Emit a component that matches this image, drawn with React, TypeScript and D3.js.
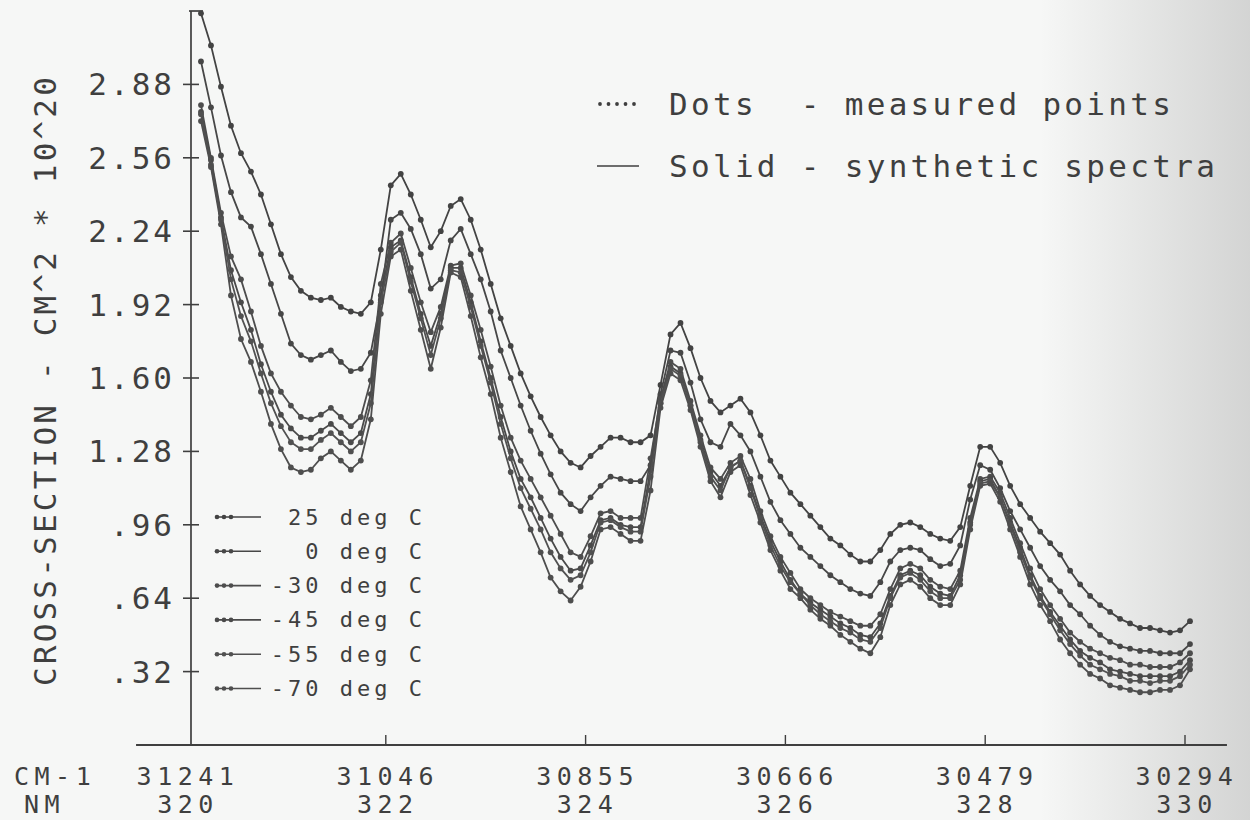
import React, { useEffect, useRef } from 'react';
import * as d3 from 'd3';

// measured wavelengths (nm)
const WAVELENGTHS = [
  320.15, 320.25, 320.35, 320.45, 320.55, 320.65, 320.75, 320.85, 320.95, 321.05,
  321.15, 321.25, 321.35, 321.45, 321.55, 321.65, 321.75, 321.85, 321.95, 322.05,
  322.15, 322.25, 322.35, 322.45, 322.55, 322.65, 322.75, 322.85, 322.95, 323.05,
  323.15, 323.25, 323.35, 323.45, 323.55, 323.65, 323.75, 323.85, 323.95, 324.05,
  324.15, 324.25, 324.35, 324.45, 324.55, 324.65, 324.75, 324.85, 324.95, 325.05,
  325.15, 325.25, 325.35, 325.45, 325.55, 325.65, 325.75, 325.85, 325.95, 326.05,
  326.15, 326.25, 326.35, 326.45, 326.55, 326.65, 326.75, 326.85, 326.95, 327.05,
  327.15, 327.25, 327.35, 327.45, 327.55, 327.65, 327.75, 327.85, 327.95, 328.05,
  328.15, 328.25, 328.35, 328.45, 328.55, 328.65, 328.75, 328.85, 328.95, 329.05,
  329.15, 329.25, 329.35, 329.45, 329.55, 329.65, 329.75, 329.85, 329.95, 330.05,
];

// cross-section, cm^2 * 10^20
const T_25 = [
  3.19, 3.05, 2.87, 2.70, 2.58, 2.50, 2.40, 2.27, 2.14, 2.04,
  1.98, 1.95, 1.94, 1.95, 1.91, 1.89, 1.88, 1.93, 2.16, 2.44,
  2.49, 2.40, 2.29, 2.17, 2.24, 2.35, 2.38, 2.29, 2.16, 2.01,
  1.86, 1.74, 1.62, 1.52, 1.43, 1.35, 1.28, 1.23, 1.21, 1.26,
  1.30, 1.34, 1.34, 1.32, 1.32, 1.35, 1.57, 1.79, 1.84, 1.73,
  1.60, 1.50, 1.45, 1.48, 1.51, 1.45, 1.35, 1.24, 1.17, 1.10,
  1.05, 1.00, 0.95, 0.90, 0.87, 0.83, 0.80, 0.80, 0.85, 0.92,
  0.96, 0.97, 0.95, 0.92, 0.90, 0.89, 0.95, 1.13, 1.30, 1.30,
  1.23, 1.13, 1.05, 0.99, 0.93, 0.88, 0.83, 0.76, 0.70, 0.65,
  0.61, 0.58, 0.55, 0.53, 0.51, 0.51, 0.50, 0.49, 0.50, 0.54,
];
const T_0 = [
  2.98, 2.78, 2.57, 2.41, 2.30, 2.26, 2.14, 2.01, 1.88, 1.75,
  1.70, 1.68, 1.70, 1.72, 1.67, 1.63, 1.64, 1.71, 1.94, 2.29,
  2.32, 2.25, 2.14, 1.99, 2.03, 2.20, 2.25, 2.14, 2.03, 1.89,
  1.72, 1.60, 1.48, 1.37, 1.27, 1.18, 1.10, 1.05, 1.02, 1.08,
  1.13, 1.17, 1.16, 1.15, 1.15, 1.22, 1.53, 1.72, 1.71, 1.58,
  1.42, 1.32, 1.30, 1.40, 1.35, 1.28, 1.17, 1.06, 0.98, 0.92,
  0.86, 0.82, 0.78, 0.74, 0.71, 0.68, 0.66, 0.65, 0.71, 0.80,
  0.85, 0.86, 0.85, 0.81, 0.78, 0.79, 0.87, 1.07, 1.22, 1.20,
  1.12, 1.02, 0.94, 0.86, 0.78, 0.72, 0.67, 0.61, 0.57, 0.52,
  0.48, 0.45, 0.43, 0.42, 0.41, 0.41, 0.40, 0.40, 0.40, 0.44,
];
const T_M30 = [
  2.79, 2.56, 2.32, 2.13, 2.03, 1.89, 1.74, 1.62, 1.54, 1.48,
  1.43, 1.42, 1.44, 1.47, 1.43, 1.39, 1.43, 1.59, 2.01, 2.19,
  2.23, 2.08, 1.93, 1.80, 1.91, 2.09, 2.10, 1.96, 1.81, 1.65,
  1.48, 1.34, 1.24, 1.16, 1.08, 1.00, 0.92, 0.84, 0.82, 0.91,
  1.01, 1.02, 0.99, 0.99, 0.99, 1.25, 1.51, 1.67, 1.64, 1.50,
  1.35, 1.21, 1.16, 1.23, 1.26, 1.16, 1.02, 0.91, 0.82, 0.75,
  0.68, 0.64, 0.61, 0.58, 0.56, 0.54, 0.52, 0.52, 0.57, 0.68,
  0.77, 0.79, 0.77, 0.72, 0.69, 0.68, 0.76, 0.99, 1.16, 1.17,
  1.10, 0.99, 0.88, 0.77, 0.68, 0.61, 0.55, 0.49, 0.45, 0.42,
  0.40, 0.38, 0.37, 0.35, 0.35, 0.34, 0.34, 0.34, 0.36, 0.40,
];
const T_M45 = [
  2.76, 2.55, 2.30, 2.07, 1.93, 1.81, 1.66, 1.54, 1.44, 1.38,
  1.34, 1.34, 1.37, 1.40, 1.36, 1.32, 1.36, 1.53, 1.96, 2.17,
  2.20, 2.04, 1.88, 1.74, 1.88, 2.08, 2.08, 1.93, 1.76, 1.60,
  1.43, 1.28, 1.16, 1.08, 0.99, 0.90, 0.82, 0.76, 0.77, 0.87,
  0.98, 0.99, 0.96, 0.95, 0.95, 1.20, 1.49, 1.65, 1.62, 1.48,
  1.33, 1.19, 1.13, 1.21, 1.24, 1.13, 1.00, 0.89, 0.80, 0.72,
  0.66, 0.62, 0.59, 0.56, 0.53, 0.51, 0.48, 0.47, 0.53, 0.65,
  0.74, 0.76, 0.74, 0.69, 0.66, 0.65, 0.74, 0.97, 1.15, 1.16,
  1.08, 0.97, 0.86, 0.74, 0.65, 0.58, 0.52, 0.46, 0.41, 0.38,
  0.36, 0.33, 0.32, 0.31, 0.30, 0.30, 0.30, 0.30, 0.32, 0.37,
];
const T_M55 = [
  2.75, 2.53, 2.29, 2.03, 1.87, 1.76, 1.62, 1.49, 1.39, 1.32,
  1.29, 1.29, 1.33, 1.36, 1.32, 1.28, 1.32, 1.49, 1.93, 2.15,
  2.19, 2.02, 1.86, 1.70, 1.86, 2.07, 2.06, 1.91, 1.74, 1.58,
  1.40, 1.25, 1.12, 1.03, 0.94, 0.84, 0.77, 0.72, 0.74, 0.84,
  0.97, 0.98, 0.95, 0.93, 0.93, 1.17, 1.49, 1.64, 1.61, 1.48,
  1.32, 1.17, 1.11, 1.21, 1.24, 1.12, 0.99, 0.87, 0.78, 0.71,
  0.66, 0.61, 0.57, 0.54, 0.51, 0.49, 0.46, 0.45, 0.51, 0.64,
  0.73, 0.75, 0.72, 0.67, 0.64, 0.64, 0.72, 0.96, 1.14, 1.15,
  1.08, 0.96, 0.84, 0.73, 0.64, 0.57, 0.50, 0.44, 0.39, 0.35,
  0.33, 0.31, 0.30, 0.28, 0.28, 0.27, 0.28, 0.28, 0.30, 0.35,
];
const T_M70 = [
  2.72, 2.52, 2.27, 1.96, 1.77, 1.67, 1.54, 1.40, 1.29, 1.21,
  1.19, 1.20, 1.25, 1.28, 1.24, 1.20, 1.24, 1.42, 1.88, 2.13,
  2.16, 1.98, 1.81, 1.64, 1.82, 2.06, 2.04, 1.87, 1.69, 1.53,
  1.34, 1.19, 1.04, 0.94, 0.84, 0.73, 0.67, 0.63, 0.69, 0.80,
  0.94, 0.95, 0.92, 0.89, 0.89, 1.11, 1.47, 1.62, 1.59, 1.46,
  1.30, 1.15, 1.08, 1.19, 1.22, 1.09, 0.97, 0.85, 0.76, 0.68,
  0.64, 0.59, 0.55, 0.52, 0.48, 0.45, 0.42, 0.40, 0.47, 0.61,
  0.70, 0.72, 0.69, 0.64, 0.61, 0.61, 0.70, 0.94, 1.13, 1.14,
  1.06, 0.94, 0.82, 0.70, 0.61, 0.54, 0.46, 0.40, 0.35, 0.31,
  0.29, 0.26, 0.25, 0.24, 0.23, 0.23, 0.24, 0.24, 0.26, 0.33,
];

const SERIES = [T_25, T_0, T_M30, T_M45, T_M55, T_M70];
const SERIES_LABELS = ['25 deg C', '0 deg C', '-30 deg C', '-45 deg C', '-55 deg C', '-70 deg C'];

const Y_TICKS = [0.32, 0.64, 0.96, 1.28, 1.6, 1.92, 2.24, 2.56, 2.88];
const Y_TICK_LABELS = ['.32', '.64', '.96', '1.28', '1.60', '1.92', '2.24', '2.56', '2.88'];
const X_TICKS_NM = [320, 322, 324, 326, 328, 330];
const X_TICK_CM = ['31241', '31046', '30855', '30666', '30479', '30294'];

const FONT = "'DejaVu Sans Mono', monospace";
const INK = '#3f3f3f';

const App = () => {
  const svgRef = useRef(null);

  useEffect(() => {
    const width = 1250;
    const height = 820;
    const svg = d3.select(svgRef.current);
    svg.selectAll('*').remove();
    svg.attr('width', width).attr('height', height);

    // scanned-paper background with the darker right edge
    const defs = svg.append('defs');
    const grad = defs.append('linearGradient').attr('id', 'edge').attr('x1', 0).attr('x2', 1);
    grad.append('stop').attr('offset', '0%').attr('stop-color', '#8a8a8a').attr('stop-opacity', 0);
    grad.append('stop').attr('offset', '100%').attr('stop-color', '#8a8a8a').attr('stop-opacity', 0.32);
    svg.append('rect').attr('width', width).attr('height', height).attr('fill', '#f6f7f6');
    svg.append('rect').attr('x', 1040).attr('width', 210).attr('height', height).attr('fill', 'url(#edge)');

    const x = d3.scaleLinear().domain([320, 330]).range([186, 1185]);
    const y = d3.scaleLinear().domain([0, 3.2]).range([745, 11]);
    const axisX = x(320.05);

    const g = svg.append('g');

    // y axis
    g.append('line')
      .attr('x1', axisX).attr('x2', axisX)
      .attr('y1', y(3.2)).attr('y2', y(0))
      .attr('stroke', INK).attr('stroke-width', 1.7);
    g.append('line')
      .attr('x1', axisX - 2).attr('x2', axisX + 12)
      .attr('y1', y(3.2)).attr('y2', y(3.2))
      .attr('stroke', INK).attr('stroke-width', 1.7);
    Y_TICKS.forEach((t, i) => {
      g.append('line')
        .attr('x1', axisX - 8).attr('x2', axisX + 8)
        .attr('y1', y(t)).attr('y2', y(t))
        .attr('stroke', INK).attr('stroke-width', 1.6);
      g.append('text')
        .attr('x', 175).attr('y', y(t))
        .attr('text-anchor', 'end').attr('dominant-baseline', 'central')
        .attr('font-family', FONT).attr('font-size', 31).attr('letter-spacing', 3)
        .attr('fill', INK)
        .text(Y_TICK_LABELS[i]);
    });

    // x axis
    g.append('line')
      .attr('x1', x(319.5)).attr('x2', x(330.42))
      .attr('y1', y(0)).attr('y2', y(0))
      .attr('stroke', INK).attr('stroke-width', 1.9);
    X_TICKS_NM.forEach((nm, i) => {
      if (i > 0) {
        g.append('line')
          .attr('x1', x(nm)).attr('x2', x(nm))
          .attr('y1', y(0)).attr('y2', y(0) - 10)
          .attr('stroke', INK).attr('stroke-width', 1.4);
      }
      g.append('text')
        .attr('x', x(nm) + 2).attr('y', 785)
        .attr('text-anchor', 'middle')
        .attr('font-family', FONT).attr('font-size', 25).attr('letter-spacing', 5.5)
        .attr('fill', INK)
        .text(X_TICK_CM[i]);
      g.append('text')
        .attr('x', x(nm) + 2).attr('y', 813)
        .attr('text-anchor', 'middle')
        .attr('font-family', FONT).attr('font-size', 25).attr('letter-spacing', 5.5)
        .attr('fill', INK)
        .text(String(nm));
    });
    g.append('text')
      .attr('x', 14).attr('y', 785)
      .attr('font-family', FONT).attr('font-size', 25).attr('letter-spacing', 5.5)
      .attr('fill', INK).text('CM-1');
    g.append('text')
      .attr('x', 24).attr('y', 813)
      .attr('font-family', FONT).attr('font-size', 25).attr('letter-spacing', 5.5)
      .attr('fill', INK).text('NM');

    // y axis title
    g.append('text')
      .attr('transform', 'translate(45,380) rotate(-90)')
      .attr('text-anchor', 'middle').attr('dominant-baseline', 'central')
      .attr('font-family', FONT).attr('font-size', 31).attr('letter-spacing', 3.2)
      .attr('fill', INK)
      .text('CROSS-SECTION - CM^2 * 10^20');

    // spectra: solid synthetic line + measured dots
    const line = d3.line()
      .x((d) => x(d[0]))
      .y((d) => y(d[1]));

    const greys = ['#434343', '#474747', '#4d4d4d', '#4a4a4a', '#515151', '#4e4e4e'];
    SERIES.forEach((vals, si) => {
      const pts = WAVELENGTHS.map((w, i) => [w, vals[i]]);
      g.append('path')
        .attr('d', line(pts))
        .attr('fill', 'none')
        .attr('stroke', greys[si])
        .attr('stroke-width', 1.8);
      g.selectAll(null)
        .data(pts)
        .enter()
        .append('circle')
        .attr('cx', (d) => x(d[0]))
        .attr('cy', (d) => y(d[1]))
        .attr('r', 2.9)
        .attr('fill', greys[si]);
    });

    // top-right key
    [0, 1, 2, 3, 4].forEach((k) => {
      g.append('circle')
        .attr('cx', 600 + k * 8.5).attr('cy', 104)
        .attr('r', 1.9).attr('fill', INK);
    });
    g.append('text')
      .attr('x', 669).attr('y', 104).attr('dominant-baseline', 'central')
      .attr('font-family', FONT).attr('font-size', 31).attr('letter-spacing', 3.3)
      .attr('fill', INK).style('white-space', 'pre')
      .text('Dots  - measured points');
    g.append('line')
      .attr('x1', 597).attr('x2', 639).attr('y1', 166).attr('y2', 166)
      .attr('stroke', INK).attr('stroke-width', 1.5);
    g.append('text')
      .attr('x', 669).attr('y', 166).attr('dominant-baseline', 'central')
      .attr('font-family', FONT).attr('font-size', 31).attr('letter-spacing', 3.3)
      .attr('fill', INK).style('white-space', 'pre')
      .text('Solid - synthetic spectra');

    // temperature key
    SERIES_LABELS.forEach((lab, i) => {
      const cy = 517 + i * 34.3;
      g.append('line')
        .attr('x1', 217).attr('x2', 261).attr('y1', cy).attr('y2', cy)
        .attr('stroke', greys[i]).attr('stroke-width', 1.6);
      [217, 224, 231].forEach((cx) => {
        g.append('circle').attr('cx', cx).attr('cy', cy).attr('r', 2.3).attr('fill', greys[i]);
      });
      g.append('text')
        .attr('x', 426).attr('y', cy).attr('dominant-baseline', 'central')
        .attr('text-anchor', 'end')
        .attr('font-family', FONT).attr('font-size', 22).attr('letter-spacing', 4)
        .attr('fill', INK)
        .text(lab);
    });
  }, []);

  return (
    <div style={{ position: 'absolute', left: 0, top: 0, width: 1250, height: 820 }}>
      <svg ref={svgRef} style={{ display: 'block' }}></svg>
    </div>
  );
};

export default App;
